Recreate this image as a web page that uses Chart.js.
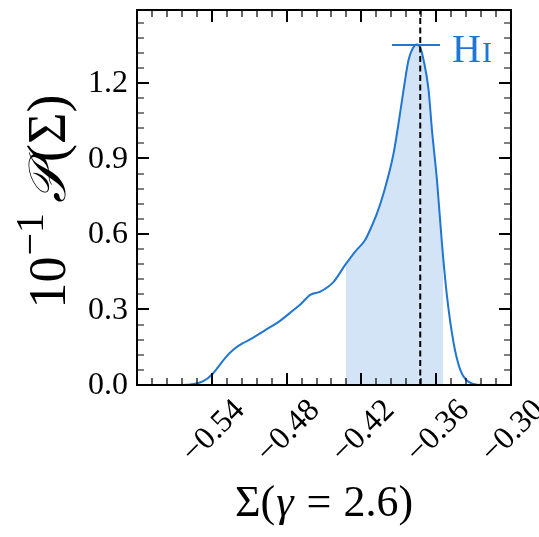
<!DOCTYPE html>
<html>
<head>
<meta charset="utf-8">
<script src="https://cdn.jsdelivr.net/npm/chart.js@4.4.0/dist/chart.umd.min.js"></script>
<style>
  html, body { margin: 0; padding: 0; background: #fff; }
  canvas { display: block; }
</style>
</head>
<body>
<canvas id="pdfChart" width="539" height="537"></canvas>
<script>
// Kernel density of Sigma for gamma = 2.6 (HI sample), in units of 10^-1
const sigma = [-0.600, -0.5652, -0.5532, -0.5468, -0.5398, -0.5348, -0.5292, -0.5228, -0.5158,
    -0.5078, -0.4971, -0.4864, -0.4744, -0.469, -0.461, -0.453, -0.4423, -0.433, -0.425, -0.417,
    -0.4131, -0.4075, -0.4022, -0.3942, -0.3902, -0.3862, -0.3822, -0.3788, -0.3754,
    -0.3724, -0.3701, -0.3661, -0.3634, -0.3594, -0.3554, -0.3513, -0.346, -0.3407,
    -0.3359, -0.3302, -0.323, -0.300];
const pdf = [0.0, 0.0, 0.005, 0.015, 0.042, 0.072, 0.108, 0.14, 0.164,
    0.185, 0.218, 0.251, 0.298, 0.32, 0.358, 0.371, 0.41, 0.477, 0.53, 0.576,
    0.616, 0.682, 0.762, 0.92, 1.04, 1.172, 1.291, 1.338, 1.353,
    1.335, 1.291, 1.172, 1.013, 0.815, 0.563, 0.351, 0.166, 0.06,
    0.02, 0.004, 0.0, 0.0];

// shaded credible interval and its edge heights
const bandLow = -0.4326;
const bandLowPdf = 0.479;
const bandHigh = -0.3545;
const bandHighPdf = 0.52;

// median marker
const sigmaMarker = -0.3728;

const xTicks = [-0.54, -0.48, -0.42, -0.36, -0.30];
const yTicks = [0.0, 0.3, 0.6, 0.9, 1.2];
const X_MIN = -0.60, X_MAX = -0.30;
const Y_MIN = 0.0, Y_MAX = 1.49;

const seriesLabel = 'HI';
const blue = 'rgb(33, 118, 210)';
const serif = '"Liberation Serif", "DejaVu Serif", serif';

const curve = sigma.map((s, i) => ({ x: s, y: pdf[i] }));
const band = [{ x: bandLow, y: bandLowPdf }]
    .concat(curve.filter(p => p.x > bandLow && p.x < bandHigh))
    .concat([{ x: bandHigh, y: bandHighPdf }]);

// minor ticks: 5 subdivisions between majors, carried out to the axis limits
function minorTicks(majors, min, max) {
    const step = (majors[1] - majors[0]) / 5;
    const out = [];
    for (let v = majors[0] - 5 * step; v <= max + 1e-9; v += step) {
        if (v < min - 1e-9) continue;
        const isMajor = majors.some(m => Math.abs(m - v) < 1e-6);
        if (!isMajor) out.push(v);
    }
    return out;
}

function drawRuns(ctx, runs, x, y) {
    let total = 0;
    runs.forEach(r => { ctx.font = r.font; total += ctx.measureText(r.text).width + (r.gap || 0); });
    let cx = x - total / 2;
    runs.forEach(r => {
        ctx.font = r.font;
        ctx.fillText(r.text, cx, y + (r.dy || 0));
        cx += ctx.measureText(r.text).width + (r.gap || 0);
    });
}

const axesPlugin = {
    id: 'axesPlugin',
    afterDraw(chart) {
        const ctx = chart.ctx;
        const area = chart.chartArea;
        const xs = chart.scales.x;
        const ys = chart.scales.y;
        ctx.save();
        ctx.strokeStyle = '#000';
        ctx.fillStyle = '#000';

        // inward ticks on all four sides
        const tick = (len, width, vals, horizontal) => {
            ctx.lineWidth = width;
            ctx.beginPath();
            vals.forEach(v => {
                if (horizontal) {
                    const px = Math.round(xs.getPixelForValue(v));
                    ctx.moveTo(px, area.bottom); ctx.lineTo(px, area.bottom - len);
                    ctx.moveTo(px, area.top); ctx.lineTo(px, area.top + len);
                } else {
                    const py = Math.round(ys.getPixelForValue(v));
                    ctx.moveTo(area.left, py); ctx.lineTo(area.left + len, py);
                    ctx.moveTo(area.right, py); ctx.lineTo(area.right - len, py);
                }
            });
            ctx.stroke();
        };
        tick(7, 1.2, minorTicks(xTicks, X_MIN, X_MAX), true);
        tick(7, 1.2, minorTicks(yTicks, Y_MIN, Y_MAX), false);
        tick(12, 2, xTicks, true);
        tick(12, 2, yTicks, false);

        // frame
        ctx.lineWidth = 2;
        ctx.strokeRect(area.left, area.top, area.right - area.left, area.bottom - area.top);

        // y tick labels
        ctx.font = '32px ' + serif;
        ctx.textAlign = 'right';
        ctx.textBaseline = 'middle';
        yTicks.forEach(v => {
            ctx.fillText(v.toFixed(1), area.left - 9, ys.getPixelForValue(v) + 1);
        });

        // x tick labels, rotated 45 degrees and centred under their ticks
        ctx.textAlign = 'center';
        xTicks.forEach(v => {
            const txt = '\u2212' + Math.abs(v).toFixed(2);
            const w = ctx.measureText(txt).width;
            const h = (w + 24) * Math.SQRT1_2;
            ctx.save();
            ctx.translate(xs.getPixelForValue(v) + 2, area.bottom + 12 + h / 2);
            ctx.rotate(-Math.PI / 4);
            ctx.fillText(txt, 0, 0);
            ctx.restore();
        });

        // axis titles
        ctx.textAlign = 'left';
        ctx.textBaseline = 'alphabetic';
        drawRuns(ctx, [
            { text: '\u03A3(', font: '44px ' + serif, gap: 1 },
            { text: '\u03B3', font: 'italic 44px ' + serif, gap: 13 },
            { text: '=', font: '44px ' + serif, gap: 12 },
            { text: '2.6)', font: '44px ' + serif }
        ], (area.left + area.right) / 2, 516);

        ctx.save();
        ctx.translate(65, (area.top + area.bottom) / 2 + 4);
        ctx.rotate(-Math.PI / 2);
        drawRuns(ctx, [
            { text: '10', font: '52px ' + serif, gap: 1 },
            { text: '\u22121', font: '40px ' + serif, dy: -22, gap: 10 },
            { text: '\uD835\uDCAB', font: 'italic 52px ' + serif, gap: 4 },
            { text: '(\u03A3)', font: '54px ' + serif }
        ], 0, 0);
        ctx.restore();

        // legend
        ctx.strokeStyle = blue;
        ctx.lineWidth = 2;
        ctx.beginPath();
        ctx.moveTo(area.right - 119, 45);
        ctx.lineTo(area.right - 71, 45);
        ctx.stroke();
        ctx.fillStyle = blue;
        ctx.font = '40px ' + serif;
        ctx.fillText(seriesLabel[0], area.right - 59, 62);
        const hw = ctx.measureText(seriesLabel[0]).width;
        ctx.font = '30px ' + serif;
        ctx.fillText(seriesLabel[1], area.right - 59 + hw + 1, 62);

        ctx.restore();
    }
};

const chartCtx = document.getElementById('pdfChart').getContext('2d');
new Chart(chartCtx, {
    type: 'line',
    data: {
        datasets: [
            {
                label: seriesLabel,
                data: curve,
                borderColor: blue,
                borderWidth: 2,
                pointRadius: 0,
                cubicInterpolationMode: 'monotone',
                fill: false,
                order: 1
            },
            {
                data: band,
                borderWidth: 0,
                borderColor: 'rgba(0,0,0,0)',
                backgroundColor: 'rgba(33, 118, 210, 0.2)',
                fill: 'origin',
                pointRadius: 0,
                cubicInterpolationMode: 'monotone',
                order: 2
            },
            {
                data: [{ x: sigmaMarker, y: Y_MIN }, { x: sigmaMarker, y: Y_MAX }],
                borderColor: '#000',
                borderWidth: 2,
                borderDash: [6, 3.5],
                pointRadius: 0,
                fill: false,
                order: 0
            }
        ]
    },
    options: {
        responsive: false,
        animation: false,
        events: [],
        layout: { padding: { left: 137, right: 28, top: 10, bottom: 152 } },
        plugins: { legend: { display: false }, tooltip: { enabled: false } },
        scales: {
            x: { type: 'linear', min: X_MIN, max: X_MAX, display: false },
            y: { type: 'linear', min: Y_MIN, max: Y_MAX, display: false }
        }
    },
    plugins: [axesPlugin]
});
</script>
</body>
</html>
